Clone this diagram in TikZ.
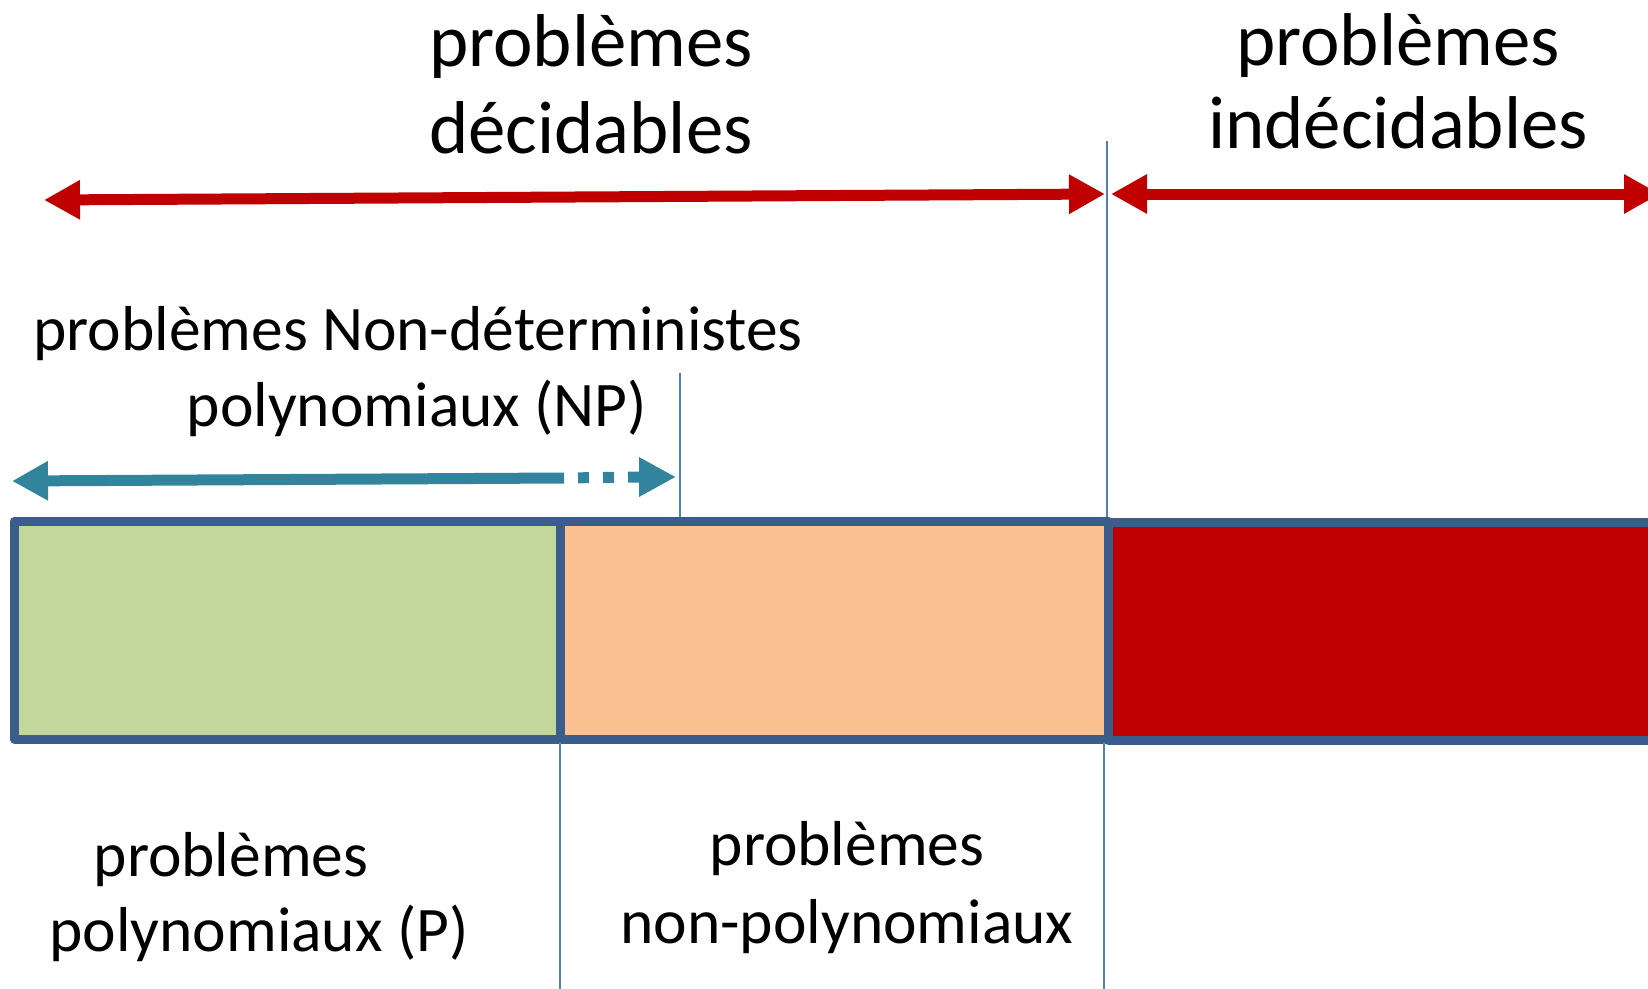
\documentclass[tikz,border=0pt]{standalone}
\usepackage{fontspec}
\setmainfont{Carlito}
\usetikzlibrary{arrows.meta}
\definecolor{arrred}{HTML}{C00000}
\definecolor{arrteal}{HTML}{31849B}
\definecolor{barborder}{HTML}{3A5D8C}
\definecolor{pgreen}{HTML}{C3D69B}
\definecolor{porange}{HTML}{FAC090}
\definecolor{thinblue}{HTML}{4F81BD}
\newcommand\bigtxt{\fontsize{74.8}{90}\selectfont}
\newcommand\midtxt{\fontsize{63.5}{76}\selectfont}
\tikzset{
  bigline/.style={anchor=base, inner sep=0pt, font=\bigtxt},
  midline/.style={anchor=base, inner sep=0pt, font=\midtxt},
  redarrow/.style={draw=arrred, line width=11pt, {Triangle[length=36pt,width=37pt]}-{Triangle[length=36pt,width=37pt]}},
  tealline/.style={draw=arrteal, line width=11pt},
  box/.style={draw=barborder, line width=9pt, line join=round},
  divider/.style={draw=thinblue, line width=2pt}
}
\begin{document}
\begin{tikzpicture}[x=1pt,y=-1pt]
\useasboundingbox (0,0) rectangle (1648,988);
% bar
\path[box, fill=pgreen] (14,521) rectangle (560,739);
\path[box, fill=porange] (560,521) rectangle (1108,739);
\path[box, fill=arrred] (1108,522) rectangle (1680,740);
% thin dividers
\coordinate (d1t) at (1107,141);
\coordinate (d1b) at (1107,517);
\coordinate (d2t) at (1104,742);
\coordinate (d2b) at (1104,990);
\coordinate (d3t) at (680,373);
\coordinate (d3b) at (680,517);
\coordinate (d4t) at (560,742);
\coordinate (d4b) at (560,990);
\draw[divider] (d1t) -- (d1b);
\draw[divider] (d2t) -- (d2b);
\draw[divider] (d3t) -- (d3b);
\draw[divider] (d4t) -- (d4b);
% red arrows
\coordinate (ra1) at (44,200);
\coordinate (ra2) at (1105,194);
\coordinate (rb1) at (1111,194);
\coordinate (rb2) at (1660,194);
\draw[redarrow] (ra1) -- (ra2);
\draw[redarrow] (rb1) -- (rb2);
% teal arrow
\coordinate (ta1) at (12,481);
\coordinate (ta2) at (564,478);
\coordinate (tb) at (639,477);
\coordinate (ta3) at (676,477);
\draw[tealline, {Triangle[length=36pt,width=37pt]}-] (ta1) -- (ta2);
\draw[tealline, dash pattern=on 0pt off 14pt on 11pt off 14pt on 11pt off 14pt on 11pt off 300pt] (ta2) -- (tb);
\draw[tealline, -{Triangle[length=37pt,width=37pt]}] (tb) -- (ta3);
% texts
\node[bigline] (t1) at (591,66) {problèmes};
\node[bigline] (t2) at (591,153) {décidables};
\node[bigline] (t3) at (1398,65) {problèmes};
\node[bigline] (t4) at (1398,148) {indécidables};
\node[midline] (t5) at (418,350) {problèmes Non-déterministes};
\node[midline] (t6) at (417,426) {polynomiaux (NP)};
\node[midline] (t7) at (231,876) {problèmes};
\node[midline] (t8) at (259,951) {polynomiaux (P)};
\node[midline] (t9) at (847,865) {problèmes};
\node[midline] (t10) at (847,943) {non-polynomiaux};
\end{tikzpicture}
\end{document}
